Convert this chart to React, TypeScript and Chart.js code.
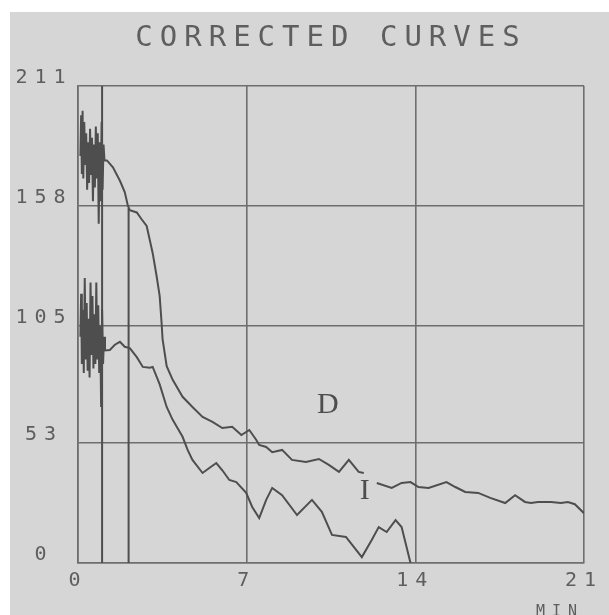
import { useEffect, useRef } from 'react';
import { Chart, registerables } from 'chart.js';

Chart.register(...registerables);

const TITLE = 'CORRECTED CURVES';
const X_AXIS_LABEL = 'MIN';
const X_TICKS = [0, 7, 14, 21];
const Y_TICKS = [0, 53, 105, 158, 211];

// Curve D (upper) — minutes / value
const D_MIN = [
  0.1, 0.13, 0.16, 0.19, 0.22, 0.26, 0.3, 0.34, 0.38, 0.42, 0.46, 0.5, 0.54, 0.58, 0.62, 0.66, 0.7, 0.74, 0.78,
  0.82, 0.86, 0.9, 0.94, 0.98, 1.02, 1.06, 1.1,
  1.2, 1.45, 1.74, 1.94, 2.07, 2.15, 2.44, 2.64, 2.85, 3.1, 3.26, 3.39, 3.47, 3.51, 3.68, 3.93, 4.34, 4.75,
  5.17, 5.58, 5.99, 6.4, 6.78, 7.11, 7.4, 7.52, 7.81, 8.06, 8.47, 8.88, 9.46, 10.0, 10.41, 10.83, 11.24,
  11.65, 11.86, 12.1, 12.4, 13.02, 13.43, 13.8, 14.13, 14.55, 15.29, 15.66, 16.07, 16.61, 17.11, 17.73,
  18.14, 18.55, 18.8, 19.09, 19.63, 20.04, 20.33, 20.62, 21.0,
];
const D_VAL = [
  180, 198, 172, 200, 170, 195, 176, 190, 165, 186, 168, 192, 172, 188, 160, 185, 166, 193, 170,
  190, 150, 186, 160, 195, 165, 185, 178,
  178, 175, 169, 164, 158, 156, 155, 152, 149, 137, 127, 118, 106, 99, 87, 81, 73.5, 69,
  64.6, 62.4, 59.7, 60.2, 56.6, 58.8, 54.4, 52.2, 51.3, 49, 50, 45.6, 44.7, 46, 43.4, 40.3, 45.6,
  40.3, 39.8, null, 35.4, 33.2, 35.4, 35.8, 33.6, 33.2, 35.8, 33.6, 31.4, 31, 28.8, 26.5,
  30, 27, 26.5, 27, 27, 26.5, 27, 26, 22,
];

// Curve I (lower) — minutes / value
const I_MIN = [
  0.1, 0.13, 0.16, 0.2, 0.24, 0.28, 0.32, 0.36, 0.4, 0.44, 0.48, 0.52, 0.56, 0.6, 0.64, 0.68, 0.72, 0.76, 0.8,
  0.84, 0.88, 0.92, 0.96, 1.0, 1.04, 1.08, 1.12,
  1.32, 1.53, 1.74, 1.94, 2.15, 2.44, 2.69, 2.98, 3.1, 3.39, 3.68, 3.93, 4.34, 4.55, 4.75, 5.17, 5.45,
  5.74, 5.99, 6.28, 6.57, 6.98, 7.23, 7.52, 7.81, 8.06, 8.47, 9.09, 9.71, 10.12, 10.54, 11.12, 11.78,
  12.19, 12.48, 12.81, 13.18, 13.43, 13.8,
];
const I_VAL = [
  100, 119, 88, 112, 84, 126, 90, 115, 85, 108, 82, 124, 92, 118, 86, 110, 88, 124, 90,
  114, 84, 105, 69, 112, 88, 100, 94,
  94.2, 96.5, 97.8, 95.6, 95, 91, 86.7, 86.3, 86.7, 79, 69, 63.3, 55.8, 50, 45.6, 39.8, 42,
  44.2, 41, 36.7, 35.8, 31, 24.8, 19.9, 27.9, 33.2, 30, 21.2, 27.9, 22.6, 12.4, 11.5, 2.6,
  10.2, 15.9, 13.7, 19, 15.9, 0,
];

// Vertical marker lines (minute, top value)
const MARK_MIN = [1.0, 2.1];
const MARK_TOP = [211, 157];

// Curve name labels
const CURVE_LABELS = ['D', 'I'];
const CURVE_LABEL_MIN = [10.37, 11.9];
const CURVE_LABEL_VAL = [70, 32];

const INK = '#4e4e4e';
const GRID = '#6e6e6e';
const TEXT = '#5e5e5e';

export default function App() {
  const ref = useRef<HTMLCanvasElement | null>(null);

  useEffect(() => {
    if (!ref.current) return;

    const bgPlugin = {
      id: 'paperBg',
      beforeDraw(chart: any) {
        const { ctx, width, height } = chart;
        ctx.save();
        ctx.fillStyle = '#ffffff';
        ctx.fillRect(0, 0, width, height);
        ctx.fillStyle = '#d6d6d6';
        ctx.fillRect(10, 12, width, height);
        ctx.restore();
        ctx.letterSpacing = '7px';
      },
      afterDraw(chart: any) {
        chart.ctx.letterSpacing = '0px';
      },
    };

    const labelPlugin = {
      id: 'curveLabels',
      afterDatasetsDraw(chart: any) {
        const { ctx, scales } = chart;
        ctx.save();
        ctx.letterSpacing = '0px';
        ctx.font = '30px "Liberation Serif"';
        ctx.fillStyle = INK;
        ctx.textAlign = 'center';
        ctx.textBaseline = 'middle';
        CURVE_LABELS.forEach((t, i) => {
          ctx.fillText(t, scales.x.getPixelForValue(CURVE_LABEL_MIN[i]), scales.y.getPixelForValue(CURVE_LABEL_VAL[i]));
        });
        ctx.restore();
      },
    };

    const lineDs = (data: any[]) => ({
      data,
      borderColor: INK,
      borderWidth: 2,
      pointRadius: 0,
      tension: 0,
      spanGaps: false,
      fill: false,
    });

    const datasets: any[] = [
      lineDs(D_MIN.map((m, i) => ({ x: m, y: D_VAL[i] }))),
      lineDs(I_MIN.map((m, i) => ({ x: m, y: I_VAL[i] }))),
      ...MARK_MIN.map((m, k) => lineDs([{ x: m, y: 0 }, { x: m, y: MARK_TOP[k] }])),
    ];

    const chart = new Chart(ref.current, {
      type: 'line',
      data: { datasets },
      plugins: [bgPlugin, labelPlugin],
      options: {
        animation: false,
        responsive: false,
        layout: { padding: { left: 0, right: 25, top: 0, bottom: 0 } },
        plugins: {
          legend: { display: false },
          tooltip: { enabled: false },
          title: {
            display: true,
            fullSize: false,
            text: TITLE,
            color: TEXT,
            font: { family: '"DejaVu Sans Mono"', size: 29, weight: 'normal' },
            padding: { top: 21, bottom: 30 },
          },
        },
        scales: {
          x: {
            type: 'linear',
            min: 0,
            max: 21,
            afterBuildTicks: (s: any) => {
              s.ticks = X_TICKS.map((v) => ({ value: v }));
            },
            afterFit: (s: any) => {
              s.height = 52;
            },
            ticks: {
              color: TEXT,
              font: { family: '"DejaVu Sans Mono"', size: 20 },
              padding: 6,
              maxRotation: 0,
              callback: (v: any) => String(v),
            },
            grid: { color: GRID, lineWidth: 1.6, drawTicks: false },
            border: { color: GRID, width: 1.6 },
            title: {
              display: true,
              text: X_AXIS_LABEL,
              align: 'end',
              color: TEXT,
              font: { family: '"DejaVu Sans Mono"', size: 15 },
              padding: { top: 0, bottom: -6 },
            },
          },
          y: {
            type: 'linear',
            min: 0,
            max: 211,
            afterBuildTicks: (s: any) => {
              s.ticks = Y_TICKS.map((v) => ({ value: v }));
            },
            afterFit: (s: any) => {
              s.width = 78;
            },
            ticks: {
              color: TEXT,
              font: { family: '"DejaVu Sans Mono"', size: 20 },
              padding: 16,
              crossAlign: 'center',
              labelOffset: -8,
              callback: (v: any) => String(v),
            },
            grid: { color: GRID, lineWidth: 1.6, drawTicks: false },
            border: { color: GRID, width: 1.6 },
          },
        },
      } as any,
    });

    return () => chart.destroy();
  }, []);

  return (
    <div style={{ position: 'absolute', left: 0, top: 0, width: 609, height: 615 }}>
      <canvas ref={ref} width={609} height={615} style={{ display: 'block' }} />
    </div>
  );
}
